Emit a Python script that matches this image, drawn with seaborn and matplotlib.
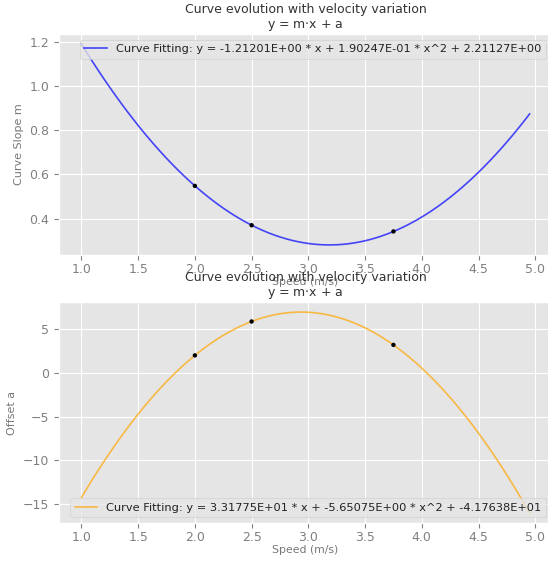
import numpy as np
import pandas as pd
import matplotlib
matplotlib.use("Agg")
import matplotlib.pyplot as plt
import seaborn as sns

# Measured points
speed = [2.0, 2.5, 3.75]
slope_m = [0.548, 0.370, 0.342]
offset_a = [1.99, 5.86, 3.19]

# Fitted quadratic coefficients (x, x^2, const) as printed in legends
coef_m = [-1.21201E+00, 1.90247E-01, 2.21127E+00]
coef_a = [3.31775E+01, -5.65075E+00, -4.17638E+01]

x_fit = np.arange(1.0, 5.0, 0.05)

plt.style.use("ggplot")
plt.rcParams["font.family"] = ["DejaVu Sans"]

fig, axes = plt.subplots(2, 1, figsize=(5.48, 5.61), dpi=100)
fig.subplots_adjust(left=59/548, right=552/548, top=1-34/561, bottom=1-523/561, hspace=0.213)

def draw(ax, coef, pts, color, ylabel, loc):
    y_fit = coef[0]*x_fit + coef[1]*x_fit**2 + coef[2]
    label = "Curve Fitting: y = {:.5E} * x + {:.5E} * x^2 + {:.5E}".format(*coef)
    df = pd.DataFrame({"x": x_fit, "y": y_fit})
    sns.lineplot(data=df, x="x", y="y", ax=ax, color=color, alpha=0.7, lw=1.2, label=label)
    sns.scatterplot(x=speed, y=pts, ax=ax, color="black", s=10, zorder=3, edgecolor="none")
    ax.set_title("Curve evolution with velocity variation\ny = m$\\cdot$x + a", fontsize=9, color="#333333", pad=4)
    ax.set_xlabel("Speed (m/s)", fontsize=7.8, color="#777777", labelpad=1)
    ax.set_ylabel(ylabel, fontsize=8, color="#777777")
    ax.tick_params(labelsize=9, colors="#808080")
    ax.tick_params(axis="x", pad=2)
    ax.set_xticks([1.0, 1.5, 2.0, 2.5, 3.0, 3.5, 4.0, 4.5, 5.0])
    ax.legend(loc=loc, fontsize=8.2, labelcolor="#222222", frameon=True)

draw(axes[0], coef_m, slope_m, "blue", "Curve Slope m", "upper right")
draw(axes[1], coef_a, offset_a, "orange", "Offset a", "lower right")

fig.savefig("out.png", dpi=100)
